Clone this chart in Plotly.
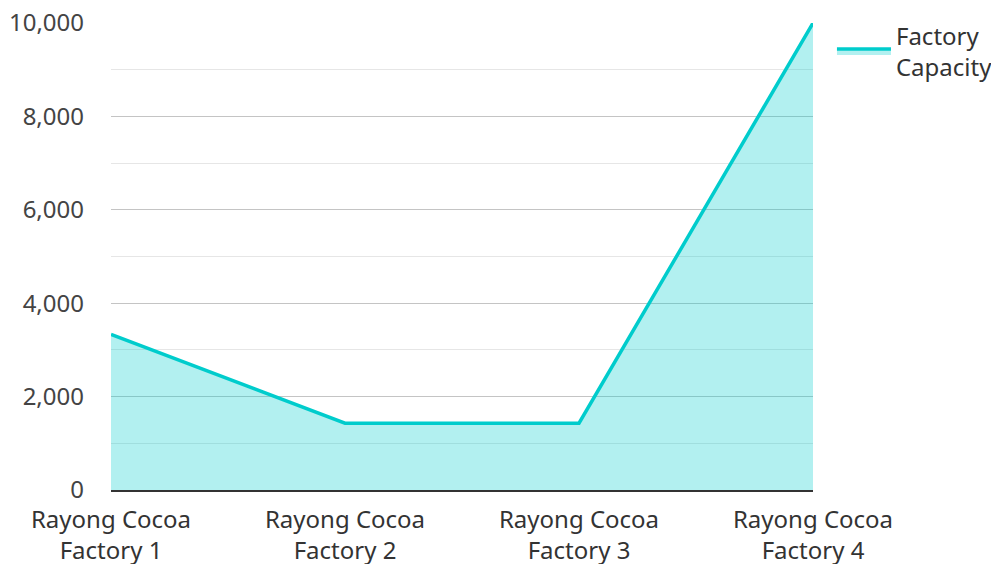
import plotly.graph_objects as go

categories = ["Rayong Cocoa<br>Factory 1", "Rayong Cocoa<br>Factory 2",
              "Rayong Cocoa<br>Factory 3", "Rayong Cocoa<br>Factory 4"]
capacity = [3330, 1430, 1430, 10000]
series_name = "Factory<br>Capacity"
y_ticks = [0, 2000, 4000, 6000, 8000, 10000]
y_tick_labels = ["0", "2,000", "4,000", "6,000", "8,000", "10,000"]

fig = go.Figure()
fig.add_trace(go.Scatter(
    x=categories, y=capacity, name=series_name, mode="lines",
    line=dict(color="#00CCCC", width=3.5),
    fill="tozeroy", fillcolor="rgba(0,204,204,0.3)",
))

font_family = "Noto Sans"
fig.update_layout(
    width=991, height=556,
    margin=dict(l=103, r=186, t=15, b=74, autoexpand=False),
    paper_bgcolor="white", plot_bgcolor="white",
    font=dict(family=font_family, size=24, color="#333333"),
    showlegend=True,
    legend=dict(x=1.027, y=1.021, xanchor="left", yanchor="top",
                xref="paper", itemwidth=54,
                font=dict(size=24, color="#333333"), tracegroupgap=0),
    xaxis=dict(type="category", range=[0, 3], showgrid=False,
               showline=True, linecolor="#333333", linewidth=2,
               tickfont=dict(size=24, color="#333333"), ticks="",
               ticklabelstandoff=7, ticklabeloverflow="allow",
               zeroline=False, automargin=False),
    yaxis=dict(range=[0, 10000], tickvals=y_ticks, ticktext=y_tick_labels,
               showgrid=True, gridcolor="#c4c4c4", gridwidth=1.2,
               minor=dict(dtick=1000, showgrid=True, gridcolor="#e6e6e6", gridwidth=1.2),
               tickfont=dict(size=24, color="#444444"), ticks="",
               ticklabelstandoff=26, ticklabeloverflow="allow",
               automargin=False, zeroline=False, showline=False),
)

fig.write_html("out.html")
